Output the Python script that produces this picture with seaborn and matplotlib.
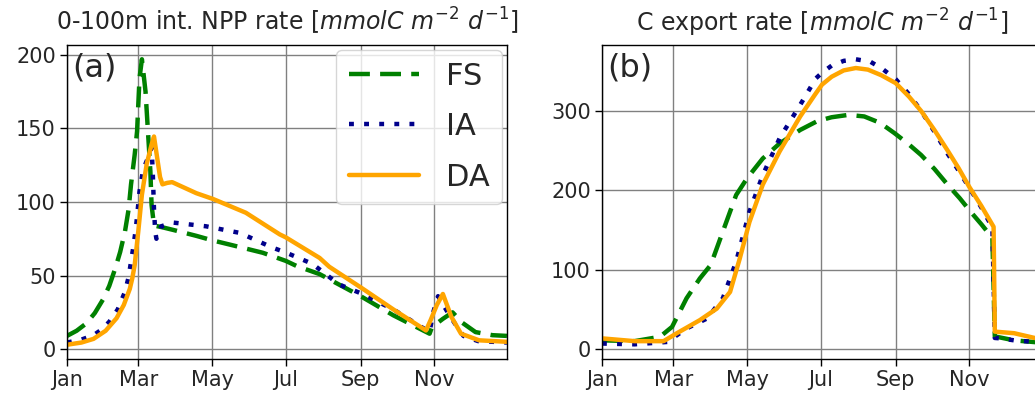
import datetime as dt
import matplotlib.pyplot as plt
import matplotlib.dates as mdates
import seaborn as sns

# day of year (0 = 1 Jan) and values
# (a) 0-100m integrated NPP rate
npp_fs_day = [0, 8, 16, 23, 30, 35, 40, 44, 48, 51, 53, 56, 58, 60, 62, 65, 67, 69, 70, 72, 78, 88,
              107, 120, 135, 162, 181, 190, 209, 243, 270, 300, 302, 311, 319, 327, 338, 352, 364]
npp_fs = [9, 12.5, 17.5, 24.5, 34, 43, 55, 66, 80, 95, 112, 132, 148, 184, 197, 175, 148, 121, 98, 84,
          83, 81, 77, 74, 71, 65.5, 60, 56.5, 51, 36, 23, 10.5, 15, 20.6, 25, 18, 11.6, 9.5, 9]

npp_ia_day = [0, 12, 22, 29, 35, 42, 48, 51, 53, 55, 57, 60, 63, 67, 70, 71, 72, 73, 74, 78, 88, 115,
              143, 170, 181, 203, 225, 243, 270, 300, 303, 307, 315, 322, 328, 340, 364]
npp_ia = [4.5, 6.5, 9.5, 13.5, 18.6, 27, 39, 49, 59.5, 70, 82, 107, 122, 130, 137, 120, 95, 80, 75,
          83.5, 86, 83.5, 79, 69, 65.7, 58, 44, 38, 27, 11.6, 25, 36, 25, 16, 9, 5.5, 4.5]

npp_da_day = [0, 12, 22, 32, 41, 47, 52, 54, 56, 59, 62, 66, 70, 72, 75, 77, 79, 83, 87, 107, 121, 148,
              176, 181, 209, 217, 243, 270, 297, 301, 306, 311, 318, 326, 341, 364]
npp_da = [3, 4.5, 7, 12.5, 21, 30, 41, 48, 57, 80, 105, 126, 139, 144.5, 128, 117, 112, 113, 113.5,
          106, 102, 92.7, 78, 76, 62, 56, 42, 27, 12.7, 20, 30, 37.5, 22, 10.5, 6, 5]

# (b) C export rate
exp_fs_day = [0, 27, 48, 58, 70, 81, 90, 100, 111, 120, 133, 147, 164, 178, 190, 204, 217, 230, 242,
              253, 264, 275, 286, 296, 305, 314, 323, 325, 341, 364]
exp_fs = [11, 10, 15.5, 28, 64, 89, 106, 148, 194, 215, 240, 259, 276, 287, 292, 295, 293, 285, 272,
          259, 244.5, 227, 207, 190, 173, 157, 140, 16, 11, 8]

exp_ia_day = [0, 27, 54, 70, 87, 100, 111, 122, 133, 147, 164, 177, 182, 190, 200, 210, 222, 232, 243,
              254, 264, 275, 286, 295, 304, 314, 323, 325, 330, 341, 358, 364]
exp_ia = [7, 6, 9, 26, 38.6, 64, 110, 173, 219, 265.6, 307.6, 341, 348, 357, 363, 365, 362, 353, 340,
          321, 300, 274, 246, 225, 203, 178, 153, 14, 13.5, 11, 9, 8]

exp_da_day = [0, 27, 51, 62, 81, 95, 106, 114, 122, 133, 147, 164, 176, 182, 190, 200, 210, 220, 231,
              243, 254, 264, 275, 286, 295, 304, 314, 324, 325, 341, 358, 364]
exp_da = [13.5, 10, 10, 20, 36.5, 51, 72, 114, 160, 207, 249, 293, 320, 333, 343, 351, 354, 352, 345,
          335, 318, 300, 276, 250, 228, 204, 180, 154, 22, 20, 14, 12]

runs = ['FS', 'IA', 'DA']
colors = {'FS': 'green', 'IA': 'darkblue', 'DA': 'orange'}
styles = {'FS': (0, (4.7, 2.3)), 'IA': (0, (1.1, 2.3)), 'DA': '-'}

start = dt.datetime(2007, 1, 1)


def to_dates(days):
    return [start + dt.timedelta(days=d) for d in days]


sns.set_style('ticks')
plt.rcParams['font.family'] = ['DejaVu Sans']

fig = plt.figure(figsize=(10.35, 3.94), dpi=100)
ax1 = fig.add_axes([0.0647, 0.0888, 0.4251, 0.797])
ax2 = fig.add_axes([0.5816, 0.0888, 0.4251, 0.797])

panels = [
    (ax1, {'FS': (npp_fs_day, npp_fs), 'IA': (npp_ia_day, npp_ia), 'DA': (npp_da_day, npp_da)}),
    (ax2, {'FS': (exp_fs_day, exp_fs), 'IA': (exp_ia_day, exp_ia), 'DA': (exp_da_day, exp_da)}),
]

for ax, series in panels:
    for run in runs:
        d, v = series[run]
        sns.lineplot(x=to_dates(d), y=v, ax=ax, color=colors[run], lw=3.2,
                     linestyle=styles[run], label=run, legend=False)
    ax.set_xlim(start, start + dt.timedelta(days=364))
    ax.xaxis.set_major_locator(mdates.MonthLocator(bymonth=[1, 3, 5, 7, 9, 11]))
    ax.xaxis.set_major_formatter(mdates.DateFormatter('%b'))
    ax.grid(True, color='gray', lw=1.0)
    ax.tick_params(labelsize=15, length=5, width=1, pad=3, colors='black', labelcolor='#262626')
    for s in ax.spines.values():
        s.set_color('black')
        s.set_linewidth(1.0)

ax1.set_ylim(-6.7, 206.7)
ax1.set_yticks([0, 50, 100, 150, 200])
ax2.set_ylim(-12.5, 383)
ax2.set_yticks([0, 100, 200, 300])

ax1.set_title(r'0-100m int. NPP rate [$mmolC\ m^{-2}\ d^{-1}$]', fontsize=17, pad=10)
ax2.set_title(r'C export rate [$mmolC\ m^{-2}\ d^{-1}$]', fontsize=17, pad=10)

ax1.text(0.012, 0.975, '(a)', transform=ax1.transAxes, fontsize=23, va='top', ha='left')
ax2.text(0.012, 0.975, '(b)', transform=ax2.transAxes, fontsize=23, va='top', ha='left')

ax1.legend(loc='upper right', fontsize=22, borderaxespad=0.15, handlelength=2.3,
           handletextpad=0.9, labelspacing=0.7)

fig.savefig('out.png', dpi=100)
